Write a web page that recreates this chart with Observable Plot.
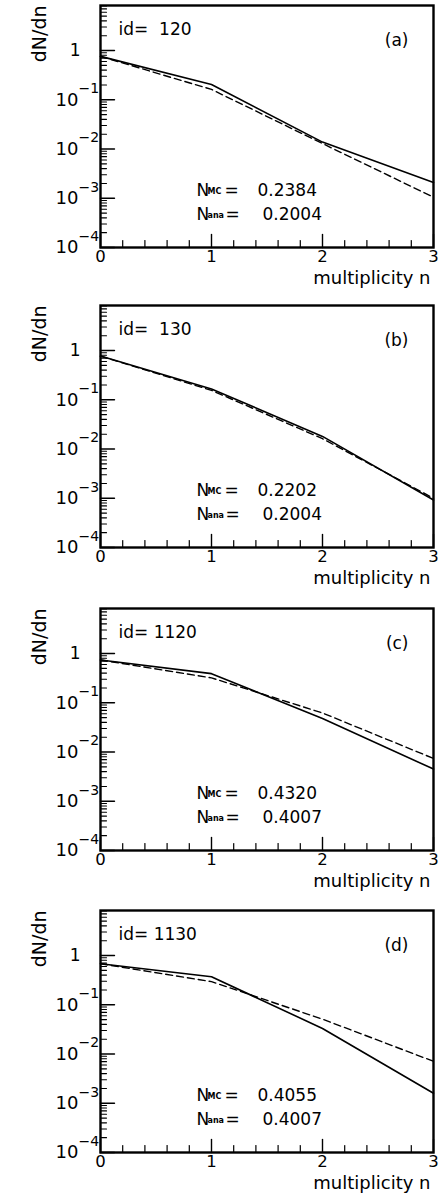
<!DOCTYPE html>
<html><head><meta charset="utf-8">
<script src="https://cdn.jsdelivr.net/npm/d3@7"></script>
<script src="https://cdn.jsdelivr.net/npm/@observablehq/plot@0.6"></script>
<style>body{margin:0;background:#fff} svg{display:block}</style>
</head><body><div id="chart"></div>
<script>
// ---- data ----
const n = [0, 1, 2, 3];
const ids = ["\u00a0 120", "\u00a0 130", " 1120", " 1130"];
const letters = ["(a)", "(b)", "(c)", "(d)"];
const nMC = ["0.2384", "0.2202", "0.4320", "0.4055"];
const nAna = ["0.2004", "0.2004", "0.4007", "0.4007"];
const solidA = [0.76, 0.204, 0.0138, 0.0021];
const dashedA = [0.76, 0.162, 0.0129, 0.00105];
const solidB = [0.77, 0.166, 0.018, 0.00092];
const dashedB = [0.77, 0.155, 0.0162, 0.00100];
const solidC = [0.74, 0.39, 0.048, 0.0045];
const dashedC = [0.74, 0.32, 0.062, 0.0074];
const solidD = [0.68, 0.37, 0.033, 0.0016];
const dashedD = [0.68, 0.295, 0.051, 0.0071];
const yMajor = [1e-4, 1e-3, 1e-2, 1e-1, 1];
const yPowers = [1e-4, 1e-3, 1e-2, 1e-1];
const yExponent = ["\u2212" + "4", "\u2212" + "3", "\u2212" + "2", "\u2212" + "1"];
const xMajor = [0, 1, 2, 3];
const xLabel = "multiplicity n";
const yLabel = "dN/dn";
const yTop = 8.2;

const solids = [solidA, solidB, solidC, solidD];
const dasheds = [dashedA, dashedB, dashedC, dashedD];

// tick positions for the axes
const yMinor = [];
for (let d = -4; d <= 0; d++) for (let k = 2; k <= 9; k++) { const v = k * Math.pow(10, d); if (v <= yTop) yMinor.push(v); }
const xMinor = d3.range(0, 3.0001, 0.2).map(v => +v.toFixed(1)).filter(v => !Number.isInteger(v));

const margTop = [5, 5, 8, 10];
const font = "DejaVu Sans";
const tickShape = {draw(context, l) { context.moveTo(0, 0); context.lineTo(0, -l); }};

function panel(i) {
  const solid = n.map((x, j) => ({n: x, v: solids[i][j]}));
  const dashed = n.map((x, j) => ({n: x, v: dasheds[i][j]}));
  const tl = {frameAnchor: "top-left", textAnchor: "start", text: d => d, fill: "black"};
  const h = i === 3 ? 298 : 300;
  return Plot.plot({
    width: 441, height: h,
    marginLeft: 100, marginRight: 8, marginTop: margTop[i], marginBottom: h - margTop[i] - 242,
    style: {fontFamily: font, fontSize: "17px", color: "black", background: "white"},
    x: {domain: [0, 3], axis: null},
    y: {type: "log", domain: [1e-4, yTop], axis: null},
    marks: [
      Plot.vector(yMajor, {y: d => d, frameAnchor: "left", length: 14, rotate: 90, anchor: "start", shape: tickShape, stroke: "black", strokeWidth: 1.4}),
      Plot.vector(yMinor, {y: d => d, frameAnchor: "left", length: 6, rotate: 90, anchor: "start", shape: tickShape, stroke: "black", strokeWidth: 1.1}),
      Plot.vector(xMajor, {x: d => d, frameAnchor: "bottom", length: 13, rotate: 0, anchor: "start", shape: tickShape, stroke: "black", strokeWidth: 1.4}),
      Plot.vector(xMinor, {x: d => d, frameAnchor: "bottom", length: 7, rotate: 0, anchor: "start", shape: tickShape, stroke: "black", strokeWidth: 1.2}),
      Plot.text(xMajor, {x: d => d, text: d => String(d), frameAnchor: "bottom", lineAnchor: "top", dy: 3, fontSize: 16.5}),
      Plot.text(yPowers, {y: d => d, text: () => "10", frameAnchor: "left", textAnchor: "end", dx: -22, fontSize: 18}),
      Plot.text(yPowers, {y: d => d, text: (d, k) => yExponent[k], frameAnchor: "left", textAnchor: "start", dx: -22, dy: -11, fontSize: 14}),
      Plot.text([1], {y: d => d, text: () => "1", frameAnchor: "left", textAnchor: "end", dx: -20, fontSize: 17}),
      Plot.line(dashed, {x: "n", y: "v", stroke: "black", strokeWidth: 1.4, strokeDasharray: "7,4"}),
      Plot.line(solid, {x: "n", y: "v", stroke: "black", strokeWidth: 1.6}),
      Plot.frame({stroke: "black", strokeWidth: 2.4}),
      Plot.text(["id=" + ids[i]], {...tl, dx: 18, dy: 17, fontSize: 17}),
      Plot.text([letters[i]], {frameAnchor: "top-right", textAnchor: "end", text: d => d, dx: -25, dy: 28, fontSize: 17}),
      Plot.text(["N"], {...tl, dx: 96, dy: 178, fontSize: 17}),
      Plot.text(["MC"], {...tl, dx: 107, dy: 183, fontSize: 8, fontWeight: "bold"}),
      Plot.text(["="], {...tl, dx: 124, dy: 178, fontSize: 17}),
      Plot.text([nMC[i]], {...tl, dx: 157, dy: 178, fontSize: 17}),
      Plot.text(["N"], {...tl, dx: 96, dy: 202, fontSize: 17}),
      Plot.text(["ana"], {...tl, dx: 107, dy: 207, fontSize: 8, fontWeight: "bold"}),
      Plot.text(["="], {...tl, dx: 125, dy: 202, fontSize: 17}),
      Plot.text([nAna[i]], {...tl, dx: 162, dy: 202, fontSize: 17}),
      Plot.text([xLabel], {frameAnchor: "bottom-right", textAnchor: "end", text: d => d, dx: -3, dy: 36, fontSize: 18}),
      Plot.text([yLabel], {frameAnchor: "top-left", textAnchor: "end", text: d => d, dx: -68, dy: 0, rotate: -90, fontSize: 19})
    ]
  });
}

const root = document.getElementById("chart");
for (let i = 0; i < 4; i++) root.appendChild(panel(i));
</script>
</body></html>
